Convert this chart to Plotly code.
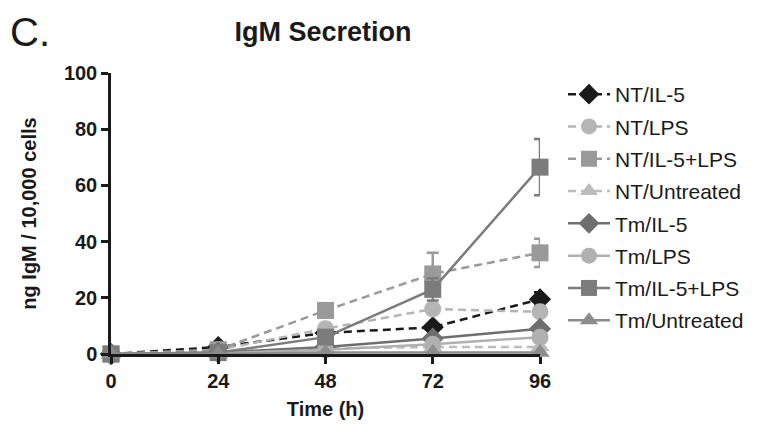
import plotly.graph_objects as go

time_h = [0, 24, 48, 72, 96]
x_ticks = [0, 24, 48, 72, 96]
y_ticks = [0, 20, 40, 60, 80, 100]

series_names = ["NT/IL-5", "NT/LPS", "NT/IL-5+LPS", "NT/Untreated",
                "Tm/IL-5", "Tm/LPS", "Tm/IL-5+LPS", "Tm/Untreated"]

nt_il5 = [0, 2.5, 7.5, 9.5, 19.5]
nt_lps = [0, 1.5, 9.0, 16.0, 15.0]
nt_il5_lps = [0, 1.5, 15.5, 28.5, 36.0]
nt_untreated = [0, 0.5, 2.0, 2.5, 2.5]
tm_il5 = [0, 0.5, 2.5, 5.5, 9.0]
tm_lps = [0, 0.3, 1.5, 3.5, 6.0]
tm_il5_lps = [0, 0.5, 6.0, 23.0, 66.5]
tm_untreated = [0, 0.0, 0.5, 0.5, 0.5]

nt_il5_err = [0, 0.5, 0.5, 1.0, 2.5]
nt_lps_err = [0, 0, 0.5, 0.5, 0.5]
nt_il5_lps_err = [0, 0.5, 2.5, 7.5, 5.0]
nt_untreated_err = [0, 0, 0, 0, 0]
tm_il5_err = [0, 0, 0, 0.5, 0.5]
tm_lps_err = [0, 0, 0, 0.5, 0.5]
tm_il5_lps_err = [0, 0, 1.0, 4.0, 10.0]
tm_untreated_err = [0, 0, 0, 0, 0]

values = [nt_il5, nt_lps, nt_il5_lps, nt_untreated, tm_il5, tm_lps, tm_il5_lps, tm_untreated]
errors = [nt_il5_err, nt_lps_err, nt_il5_lps_err, nt_untreated_err,
          tm_il5_err, tm_lps_err, tm_il5_lps_err, tm_untreated_err]

colors = ["#1a1a1a", "#b5b5b5", "#9a9a9a", "#bcbcbc",
          "#6e6e6e", "#b0b0b0", "#7c7c7c", "#8c8c8c"]
symbols = ["diamond", "circle", "square", "triangle-up",
           "diamond", "circle", "square", "triangle-up"]
dashes = ["8px,5px"] * 4 + ["solid"] * 4

FONT = "Liberation Sans, Arial, sans-serif"
INK = "#1a1a1a"

fig = go.Figure()
for i, name in enumerate(series_names):
    fig.add_trace(go.Scatter(
        x=time_h, y=values[i], name=name, mode="lines+markers",
        legendgroup=name,
        line=dict(color=colors[i], width=2.5, dash=dashes[i]),
        marker=dict(symbol=symbols[i], size=17, color=colors[i]),
        error_y=dict(type="data", array=errors[i], visible=True,
                     color=colors[i], thickness=2.5, width=6),
        cliponaxis=False,
    ))

fig.update_layout(
    width=759, height=424,
    margin=dict(l=103, r=227, t=65, b=78, autoexpand=False),
    paper_bgcolor="white", plot_bgcolor="white",
    font=dict(family=FONT, color=INK),
    showlegend=True,
    legend=dict(xref="container", yref="container", x=555 / 759, y=1 - 66 / 424,
                xanchor="left", yanchor="top", maxheight=420,
                font=dict(size=21, color=INK, family=FONT),
                tracegroupgap=2, itemwidth=42, bgcolor="rgba(0,0,0,0)"),
    title=dict(text="IgM Secretion", x=315 / 759, xanchor="center", xref="container",
               yref="container", y=1 - 24 / 424, yanchor="middle",
               font=dict(size=27, weight="bold", color=INK, family=FONT)),
    xaxis=dict(range=[0, 96], tickvals=x_ticks, ticktext=[str(t) for t in x_ticks],
               showgrid=False, zeroline=False, showline=True, linecolor=INK,
               linewidth=2.5, ticks="outside", ticklen=7, tickwidth=2.5,
               tickcolor=INK, automargin=False,
               tickfont=dict(size=20, weight="bold", color=INK, family=FONT),
               title=dict(text="Time (h)", standoff=12,
                          font=dict(size=20, weight="bold", color=INK, family=FONT))),
    yaxis=dict(range=[0, 100], tickvals=y_ticks, ticktext=[str(t) for t in y_ticks],
               showgrid=False, zeroline=False, showline=True, linecolor=INK,
               linewidth=2.5, ticks="outside", ticklen=7, tickwidth=2.5,
               tickcolor=INK, automargin=False,
               tickfont=dict(size=20, weight="bold", color=INK, family=FONT),
               title=dict(text="ng IgM / 10,000 cells", standoff=22,
                          font=dict(size=20, weight="bold", color=INK, family=FONT))),
)
fig.add_annotation(text="C.", xref="paper", yref="paper", x=-103 / 429, y=1 + 64 / 281,
                   xanchor="left", yanchor="top", showarrow=False, xshift=1,
                   borderpad=0, font=dict(size=40, color=INK, family=FONT))

fig.write_html("out.html")
